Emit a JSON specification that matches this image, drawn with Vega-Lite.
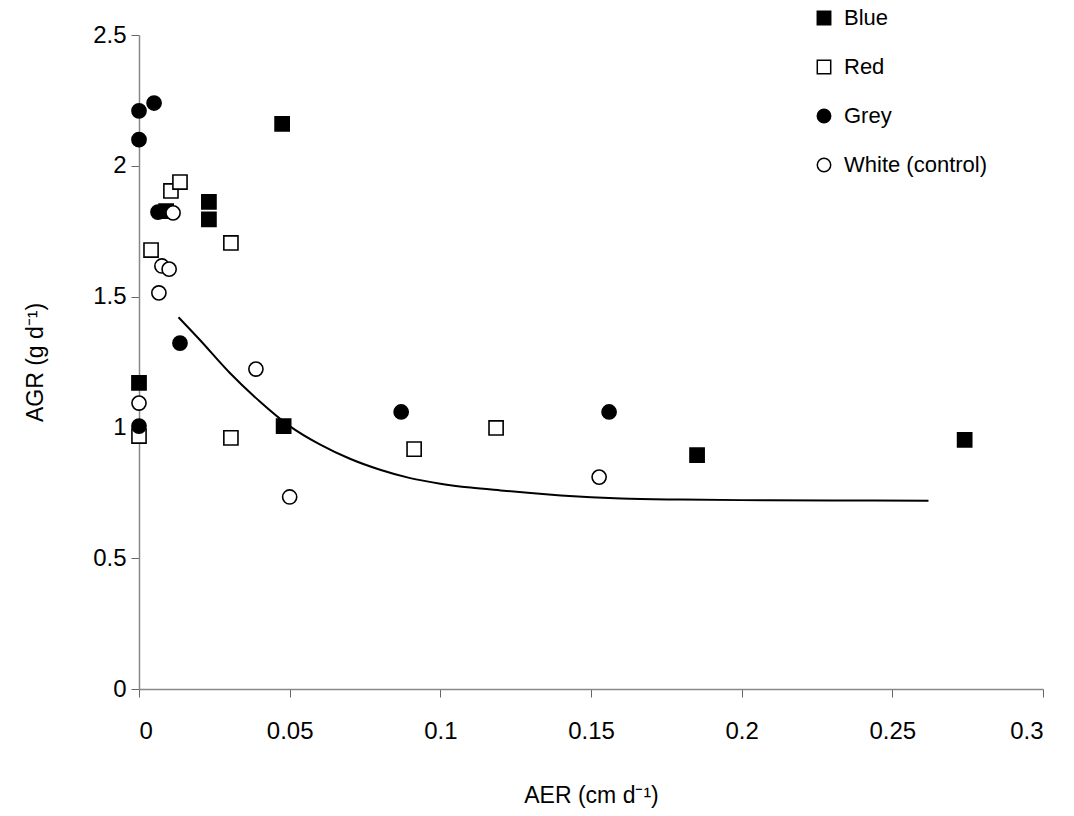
{
  "$schema": "https://vega.github.io/schema/vega-lite/v6.json",
  "width": 904,
  "height": 654,
  "autosize": {"type": "none"},
  "padding": {"left": 139, "top": 35, "right": 31, "bottom": 127},
  "background": "white",
  "config": {
    "view": {"stroke": null},
    "font": "Liberation Sans",
    "axis": {
      "grid": false,
      "domainColor": "#888888",
      "domainWidth": 1.5,
      "tickColor": "#666666",
      "tickSize": 8,
      "labelFontSize": 24,
      "labelColor": "black",
      "titleFontSize": 23,
      "titleFontWeight": "normal",
      "titleColor": "black",
      "labelFont": "Liberation Sans",
      "titleFont": "Liberation Sans"
    }
  },
  "datasets": {
    "points": [
      {"series": "Blue", "AER": 0, "AGR": 1.17},
      {"series": "Blue", "AER": 0.009, "AGR": 1.827},
      {"series": "Blue", "AER": 0.0232, "AGR": 1.862},
      {"series": "Blue", "AER": 0.0232, "AGR": 1.795},
      {"series": "Blue", "AER": 0.0475, "AGR": 2.16},
      {"series": "Blue", "AER": 0.048, "AGR": 1.005},
      {"series": "Blue", "AER": 0.1852, "AGR": 0.894},
      {"series": "Blue", "AER": 0.274, "AGR": 0.952},
      {"series": "Red", "AER": 0.0106, "AGR": 1.904},
      {"series": "Red", "AER": 0.0136, "AGR": 1.938},
      {"series": "Red", "AER": 0.004, "AGR": 1.678},
      {"series": "Red", "AER": 0.0305, "AGR": 1.705},
      {"series": "Red", "AER": 0, "AGR": 0.967},
      {"series": "Red", "AER": 0.0305, "AGR": 0.96},
      {"series": "Red", "AER": 0.0913, "AGR": 0.917},
      {"series": "Red", "AER": 0.1185, "AGR": 0.998},
      {"series": "Grey", "AER": 0, "AGR": 2.21},
      {"series": "Grey", "AER": 0.005, "AGR": 2.24},
      {"series": "Grey", "AER": 0, "AGR": 2.10},
      {"series": "Grey", "AER": 0.0063, "AGR": 1.823},
      {"series": "Grey", "AER": 0.0136, "AGR": 1.322},
      {"series": "Grey", "AER": 0, "AGR": 1.005},
      {"series": "Grey", "AER": 0.087, "AGR": 1.059},
      {"series": "Grey", "AER": 0.156, "AGR": 1.059},
      {"series": "White (control)", "AER": 0.0113, "AGR": 1.82},
      {"series": "White (control)", "AER": 0.0076, "AGR": 1.617},
      {"series": "White (control)", "AER": 0.010, "AGR": 1.605},
      {"series": "White (control)", "AER": 0.0066, "AGR": 1.514},
      {"series": "White (control)", "AER": 0.0388, "AGR": 1.223},
      {"series": "White (control)", "AER": 0, "AGR": 1.093},
      {"series": "White (control)", "AER": 0.050, "AGR": 0.734},
      {"series": "White (control)", "AER": 0.1527, "AGR": 0.81}
    ],
    "curve": [
      {"AER": 0.0131, "AGR": 1.421},
      {"AER": 0.02, "AGR": 1.337},
      {"AER": 0.03, "AGR": 1.21},
      {"AER": 0.04, "AGR": 1.10},
      {"AER": 0.05, "AGR": 1.005},
      {"AER": 0.06, "AGR": 0.935},
      {"AER": 0.07, "AGR": 0.88},
      {"AER": 0.08, "AGR": 0.838},
      {"AER": 0.09, "AGR": 0.806},
      {"AER": 0.10, "AGR": 0.785},
      {"AER": 0.11, "AGR": 0.770},
      {"AER": 0.12, "AGR": 0.759},
      {"AER": 0.13, "AGR": 0.749},
      {"AER": 0.14, "AGR": 0.740},
      {"AER": 0.15, "AGR": 0.733},
      {"AER": 0.16, "AGR": 0.728},
      {"AER": 0.18, "AGR": 0.724},
      {"AER": 0.20, "AGR": 0.722},
      {"AER": 0.23, "AGR": 0.721},
      {"AER": 0.262, "AGR": 0.720}
    ]
  },
  "encoding": {
    "x": {
      "field": "AER",
      "type": "quantitative",
      "scale": {"domain": [0, 0.3], "nice": false, "zero": false},
      "axis": {
        "values": [0, 0.05, 0.1, 0.15, 0.2, 0.25, 0.3],
        "format": "~g",
        "labelPadding": 22,
        "title": "AER (cm d⁻¹)",
        "titleY": 106,
        "titleBaseline": "middle"
      }
    },
    "y": {
      "field": "AGR",
      "type": "quantitative",
      "scale": {"domain": [0, 2.5], "nice": false},
      "axis": {
        "values": [0, 0.5, 1, 1.5, 2, 2.5],
        "format": "~g",
        "labelPadding": 5,
        "title": "AGR (g d⁻¹)",
        "titleX": -104,
        "titleY": 327,
        "titleAngle": -90,
        "titleAlign": "center",
        "titleBaseline": "middle"
      }
    }
  },
  "layer": [
    {
      "data": {"name": "curve"},
      "mark": {"type": "line", "color": "black", "strokeWidth": 2, "interpolate": "monotone"},
      "encoding": {}
    },
    {
      "data": {"name": "points"},
      "mark": {"type": "point", "filled": true, "opacity": 1, "stroke": "black", "strokeWidth": 1.6, "size": 200},
      "encoding": {
        "shape": {
          "field": "series",
          "type": "nominal",
          "scale": {"domain": ["Blue", "Red", "Grey", "White (control)"], "range": ["square", "square", "circle", "circle"]},
          "legend": {
            "title": null,
            "orient": "none",
            "legendX": 674,
            "legendY": -28,
            "labelFontSize": 22,
            "labelColor": "black",
            "labelFont": "Liberation Sans",
            "labelOffset": 9,
            "symbolSize": 180,
            "rowPadding": 27,
            "encode": {
              "symbols": {"update": {"stroke": {"value": "black"}, "strokeWidth": {"value": 1.6}}}
            }
          }
        },
        "fill": {
          "field": "series",
          "type": "nominal",
          "scale": {"domain": ["Blue", "Red", "Grey", "White (control)"], "range": ["black", "white", "black", "white"]},
          "legend": {
            "title": null,
            "orient": "none",
            "legendX": 674,
            "legendY": -28,
            "labelFontSize": 22,
            "labelColor": "black",
            "labelFont": "Liberation Sans",
            "labelOffset": 9,
            "symbolSize": 180,
            "rowPadding": 27,
            "encode": {
              "symbols": {"update": {"stroke": {"value": "black"}, "strokeWidth": {"value": 1.6}}}
            }
          }
        }
      }
    }
  ]
}
